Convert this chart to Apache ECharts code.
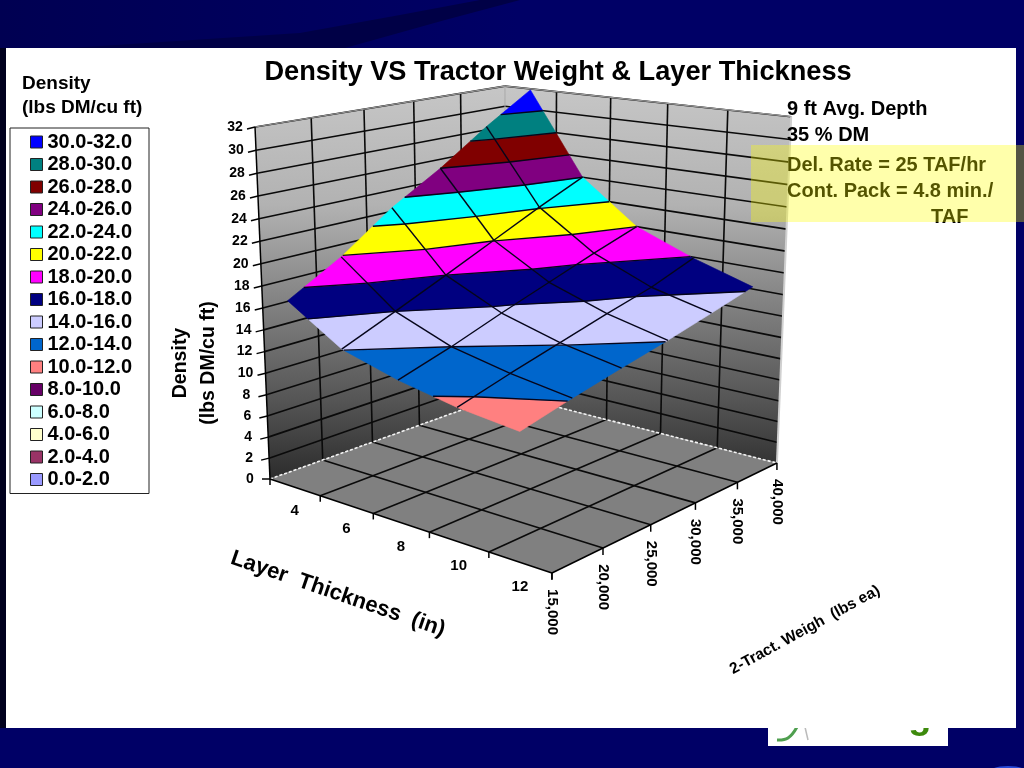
<!DOCTYPE html>
<html>
<head>
<meta charset="utf-8">
<style>
  html, body { margin: 0; padding: 0; background: #000066; }
  #chart { width: 1024px; height: 768px; }
</style>
<script src="https://cdn.jsdelivr.net/npm/echarts@6/dist/echarts.min.js"></script>
</head>
<body>
<div id="chart"></div>
<script>
// axis labels
const thicknessLabels = ['4', '6', '8', '10', '12'];
const weightLabels = ['15,000', '20,000', '25,000', '30,000', '35,000', '40,000'];
const densityTicks = [0, 2, 4, 6, 8, 10, 12, 14, 16, 18, 20, 22, 24, 26, 28, 30, 32];

// density per tractor weight (15,000 .. 40,000), one list per layer thickness
const density4in = [17.2, 19.9, 23.3, 26.0, 29.1, 31.9];
const density6in = [14.05, 16.0, 18.0, 20.05, 22.1, 24.0];
const density8in = [12.6, 14.0, 15.6, 17.1, 18.6, 20.0];
const density10in = [11.6, 12.9, 14.1, 15.3, 16.4, 17.9];
const density12in = [11.0, 12.1, 13.1, 14.05, 15.1, 16.2];
const densityRows = [density4in, density6in, density8in, density10in, density12in];

// legend bands, lowest first
const bandNames = ['0.0-2.0', '2.0-4.0', '4.0-6.0', '6.0-8.0', '8.0-10.0', '10.0-12.0', '12.0-14.0', '14.0-16.0',
  '16.0-18.0', '18.0-20.0', '20.0-22.0', '22.0-24.0', '24.0-26.0', '26.0-28.0', '28.0-30.0', '30.0-32.0'];
const bandColors = ['#9999ff', '#993366', '#ffffcc', '#ccffff', '#660066', '#ff8080', '#0066cc', '#ccccff',
  '#000080', '#ff00ff', '#ffff00', '#00ffff', '#800080', '#800000', '#008080', '#0000ff'];

const FONT = '"Liberation Sans", Arial, sans-serif';
const Z_MAX = 32;

// 外部相机：把 (thickness 0-1, weight 0-1, density 0-1) 投影到画布
function project(u, v, t) {
  const w = 1 - 0.1327 * u + 0.1508 * v - 0.055 * t;
  return [
    (270 + 208.7 * u + 312.3 * v - 29 * t) / w,
    (479 + 18 * u - 25.6 * v - 359 * t) / w,
  ];
}

const nodeU = (i) => (i + 0.5) / thicknessLabels.length;
const nodeV = (j) => j / (weightLabels.length - 1);

// 网格单元
const cells = [];
for (let i = 0; i < densityRows.length - 1; i++) {
  for (let j = 0; j < weightLabels.length - 1; j++) cells.push([i, j]);
}

function cellCorners(i, j) {
  return [[i, j], [i + 1, j], [i + 1, j + 1], [i, j + 1]].map(([a, b]) => [nodeU(a), nodeV(b), densityRows[a][b]]);
}

// clip a cell polygon to density >= level (sign 1) or <= level (sign -1)
function clipPoly(poly, level, sign) {
  const out = [];
  for (let k = 0; k < poly.length; k++) {
    const a = poly[k];
    const b = poly[(k + 1) % poly.length];
    const da = (a[2] - level) * sign;
    const db = (b[2] - level) * sign;
    if (da >= 0) out.push(a);
    if ((da >= 0) !== (db >= 0)) {
      const f = da / (da - db);
      out.push([a[0] + (b[0] - a[0]) * f, a[1] + (b[1] - a[1]) * f, level]);
    }
  }
  return out;
}

function seg(a, b, style) {
  return { type: 'line', shape: { x1: a[0], y1: a[1], x2: b[0], y2: b[1] }, style: { fill: null, ...style } };
}

function label(text, x, y, font, rotation) {
  return {
    type: 'text',
    x,
    y,
    rotation: rotation || 0,
    style: { text, font, fill: '#000', align: 'center', verticalAlign: 'middle' },
  };
}

const wallGradient = new echarts.graphic.LinearGradient(0, 87, 0, 479, [
  { offset: 0, color: '#c6c6c6' },
  { offset: 0.3, color: '#b2b2b2' },
  { offset: 0.55, color: '#828282' },
  { offset: 0.8, color: '#555555' },
  { offset: 1, color: '#2c2c2c' },
], true);

// 墙面、地面、刻度
function renderFrame(params, api) {
  const p = (u, v, z) => api.coord(project(u, v, z / Z_MAX));
  const gridLine = { stroke: '#0a0a0a', lineWidth: 1.6 };
  const children = [];
  const quad = (pts, fill) => children.push({ type: 'polygon', shape: { points: pts }, style: { fill } });

  quad([p(0, 0, 0), p(0, 1, 0), p(0, 1, Z_MAX), p(0, 0, Z_MAX)], wallGradient);
  quad([p(0, 1, 0), p(1, 1, 0), p(1, 1, Z_MAX), p(0, 1, Z_MAX)], wallGradient);
  quad([p(0, 0, 0), p(1, 0, 0), p(1, 1, 0), p(0, 1, 0)], '#808080');

  densityTicks.forEach((z) => {
    if (z === 0) return;
    children.push(seg(p(0, 0, z), p(0, 1, z), gridLine));
    children.push(seg(p(0, 1, z), p(1, 1, z), gridLine));
  });
  for (let k = 1; k < thicknessLabels.length; k++) {
    const f = k / thicknessLabels.length;
    children.push(seg(p(f, 1, 0), p(f, 1, Z_MAX), gridLine));
    children.push(seg(p(f, 0, 0), p(f, 1, 0), gridLine));
  }
  for (let k = 1; k < weightLabels.length - 1; k++) {
    const f = k / (weightLabels.length - 1);
    children.push(seg(p(0, f, 0), p(0, f, Z_MAX), gridLine));
    children.push(seg(p(0, f, 0), p(1, f, 0), gridLine));
  }

  // wall edges
  const edge = { stroke: '#9a9a9a', lineWidth: 1.2 };
  children.push(seg(p(0, 0, Z_MAX), p(0, 1, Z_MAX), edge));
  children.push(seg(p(0, 1, Z_MAX), p(1, 1, Z_MAX), edge));
  children.push(seg(p(0, 1, 0), p(0, 1, Z_MAX), { stroke: '#a8a8a8', lineWidth: 1 }));
  children.push(seg(p(1, 1, 0), p(1, 1, Z_MAX), { stroke: '#d0d0d0', lineWidth: 2 }));
  const junction = { stroke: '#f4f4f4', lineWidth: 1.6, lineDash: [3, 2] };
  children.push(seg(p(0, 0, 0), p(0, 1, 0), junction));
  children.push(seg(p(0, 1, 0), p(1, 1, 0), junction));

  // axes
  const axisLine = { stroke: '#000', lineWidth: 1.5 };
  children.push(seg(p(0, 0, 0), p(0, 0, Z_MAX), axisLine));
  children.push(seg(p(0, 0, 0), p(1, 0, 0), axisLine));
  children.push(seg(p(1, 0, 0), p(1, 1, 0), axisLine));

  densityTicks.forEach((z) => {
    const o = p(0, 0, z);
    children.push(seg(o, [o[0] - 8, o[1] + (z === 0 ? 0 : 2)], axisLine));
    children.push(label(String(z), o[0] - 20, o[1], `bold 14px ${FONT}`));
  });
  for (let k = 0; k <= thicknessLabels.length; k++) {
    const o = p(k / thicknessLabels.length, 0, 0);
    children.push(seg(o, [o[0], o[1] + 6], axisLine));
  }
  thicknessLabels.forEach((text, i) => {
    const o = p(nodeU(i), 0, 0);
    children.push(label(text, o[0], o[1] + 24, `bold 15px ${FONT}`));
  });
  weightLabels.forEach((text, j) => {
    const o = p(1, nodeV(j), 0);
    children.push(seg(o, [o[0], o[1] + 7], axisLine));
    children.push(label(text, o[0], o[1] + 39, `bold 15px ${FONT}`, -Math.PI / 2));
  });
  return { type: 'group', children };
}

// 每个色带一个系列
function renderBand(lo, hi, color) {
  return function (params, api) {
    let poly = clipPoly(cellCorners(api.value(0), api.value(1)), lo, 1);
    if (poly.length) poly = clipPoly(poly, hi, -1);
    if (poly.length < 3) return null;
    return {
      type: 'polygon',
      shape: { points: poly.map((c) => api.coord(project(c[0], c[1], c[2] / Z_MAX))) },
      style: { fill: color, stroke: color, lineWidth: 0.6 },
    };
  };
}

// 曲面内部网格线和等值线
function renderMesh(params, api) {
  const p = (c) => api.coord(project(c[0], c[1], c[2] / Z_MAX));
  const meshLine = { stroke: '#05051a', lineWidth: 1.4 };
  const children = [];
  for (let i = 1; i < densityRows.length - 1; i++) {
    for (let j = 0; j < weightLabels.length - 1; j++) {
      children.push(seg(p([nodeU(i), nodeV(j), densityRows[i][j]]), p([nodeU(i), nodeV(j + 1), densityRows[i][j + 1]]), meshLine));
    }
  }
  for (let j = 1; j < weightLabels.length - 1; j++) {
    for (let i = 0; i < densityRows.length - 1; i++) {
      children.push(seg(p([nodeU(i), nodeV(j), densityRows[i][j]]), p([nodeU(i + 1), nodeV(j), densityRows[i + 1][j]]), meshLine));
    }
  }
  cells.forEach(([i, j]) => {
    const poly = cellCorners(i, j);
    densityTicks.forEach((level) => {
      const hits = [];
      poly.forEach((a, k) => {
        const b = poly[(k + 1) % poly.length];
        if ((a[2] >= level) !== (b[2] >= level)) {
          const f = (level - a[2]) / (b[2] - a[2]);
          hits.push([a[0] + (b[0] - a[0]) * f, a[1] + (b[1] - a[1]) * f, level]);
        }
      });
      if (hits.length >= 2) children.push(seg(p(hits[0]), p(hits[1]), meshLine));
      if (hits.length === 4) children.push(seg(p(hits[2]), p(hits[3]), meshLine));
    });
  });
  return { type: 'group', children };
}

const series = [
  { type: 'custom', name: 'frame', coordinateSystem: 'cartesian2d', silent: true, clip: false, z: 2, data: [[0, 0]], renderItem: renderFrame },
];
bandNames.forEach((name, b) => {
  series.push({
    type: 'custom',
    name,
    coordinateSystem: 'cartesian2d',
    silent: true,
    clip: false,
    z: 3,
    itemStyle: { color: bandColors[b] },
    data: cells,
    renderItem: renderBand(b * 2, (b + 1) * 2, bandColors[b]),
  });
});
series.push({ type: 'custom', name: 'mesh', coordinateSystem: 'cartesian2d', silent: true, clip: false, z: 4, data: [[0, 0]], renderItem: renderMesh });

function sideText(text, x, y, size, extra) {
  return {
    type: 'text',
    z: 20,
    x,
    y,
    style: { text, font: `bold ${size}px ${FONT}`, fill: '#000', align: 'left', verticalAlign: 'middle' },
    ...extra,
  };
}

const graphic = [
  // 背景
  {
    type: 'rect',
    z: 0,
    shape: { x: 0, y: 0, width: 520, height: 48 },
    style: { fill: new echarts.graphic.LinearGradient(0, 0, 1, 0, [{ offset: 0, color: '#000052' }, { offset: 1, color: '#000066' }]) },
  },
  { type: 'polygon', z: 0, shape: { points: [[70, 48], [300, 33], [400, 15], [480, 0], [520, 0], [445, 20], [345, 48]] }, style: { fill: '#000046' } },
  { type: 'rect', z: 0, shape: { x: 0, y: 48, width: 6, height: 680 }, style: { fill: '#00001e' } },
  { type: 'ellipse', z: 0, shape: { cx: 1008, cy: 770, rx: 16, ry: 4 }, style: { fill: '#2a4ad8' } },
  // logo, mostly hidden behind the panel
  { type: 'rect', z: 0, shape: { x: 768, y: 728, width: 180, height: 18 }, style: { fill: '#ffffff' } },
  { type: 'polyline', z: 0, shape: { points: [[777, 740], [788, 738], [797, 727]], smooth: 0.4 }, style: { stroke: '#4f9f4f', lineWidth: 3, fill: null } },
  { type: 'polyline', z: 0, shape: { points: [[805, 727], [808, 740]] }, style: { stroke: '#bbbbbb', lineWidth: 1.5, fill: null } },
  { type: 'text', z: 0, x: 826, y: 737, style: { text: 'Forage', font: `bold 38px ${FONT}`, fill: '#3d8a0c', align: 'left', verticalAlign: 'bottom' } },
  // 白色面板
  { type: 'rect', z: 0, shape: { x: 6, y: 48, width: 1010, height: 680 }, style: { fill: '#ffffff' } },

  sideText('Density', 22, 84, 19),
  sideText('(lbs DM/cu ft)', 22, 108, 19),
  sideText('9 ft Avg. Depth', 787, 109, 20),
  sideText('35 % DM', 787, 135, 20),
  sideText('Del. Rate = 25 TAF/hr', 787, 165, 20),
  sideText('Cont. Pack = 4.8 min./', 787, 191, 20),
  sideText('TAF', 931, 217, 20),
  { type: 'rect', z: 30, shape: { x: 751, y: 145, width: 273, height: 77 }, style: { fill: 'rgba(255,255,0,0.33)' } },

  // axis titles
  { type: 'text', z: 20, x: 181, y: 363, rotation: Math.PI / 2, style: { text: 'Density', font: `bold 19.5px ${FONT}`, fill: '#000', align: 'center', verticalAlign: 'middle' } },
  { type: 'text', z: 20, x: 209, y: 363, rotation: Math.PI / 2, style: { text: '(lbs DM/cu ft)', font: `bold 19.5px ${FONT}`, fill: '#000', align: 'center', verticalAlign: 'middle' } },
  { type: 'text', z: 20, x: 338, y: 594, rotation: -0.33, style: { text: 'Layer  Thickness  (in)', font: `bold 22px ${FONT}`, fill: '#000', align: 'center', verticalAlign: 'middle' } },
  { type: 'text', z: 20, x: 805, y: 630, rotation: 0.5, style: { text: '2-Tract. Weigh  (lbs ea)', font: `bold 15.5px ${FONT}`, fill: '#000', align: 'center', verticalAlign: 'middle' } },
];

const chart = echarts.init(document.getElementById('chart'), null, { renderer: 'canvas' });
chart.setOption({
  backgroundColor: '#000066',
  animation: false,
  title: {
    text: 'Density VS Tractor Weight & Layer Thickness',
    left: 558,
    top: 59,
    textAlign: 'center',
    padding: 0,
    textStyle: { fontFamily: FONT, fontWeight: 'bold', fontSize: 27.2, color: '#000' },
  },
  legend: {
    orient: 'vertical',
    left: 10,
    top: 128,
    padding: [4, 17, 4, 20],
    itemWidth: 12,
    itemHeight: 12,
    itemGap: 2.5,
    icon: 'rect',
    selectedMode: false,
    backgroundColor: '#fff',
    borderColor: '#222',
    borderWidth: 1,
    borderRadius: 0,
    itemStyle: { borderColor: '#222', borderWidth: 1 },
    textStyle: { fontFamily: FONT, fontWeight: 'bold', fontSize: 20, color: '#000', lineHeight: 20 },
    data: bandNames.slice().reverse(),
  },
  grid: { left: 0, right: 0, top: 0, bottom: 0 },
  xAxis: { type: 'value', min: 0, max: 1024, show: false },
  yAxis: { type: 'value', min: 0, max: 768, inverse: true, show: false },
  graphic,
  series,
});
</script>
</body>
</html>
